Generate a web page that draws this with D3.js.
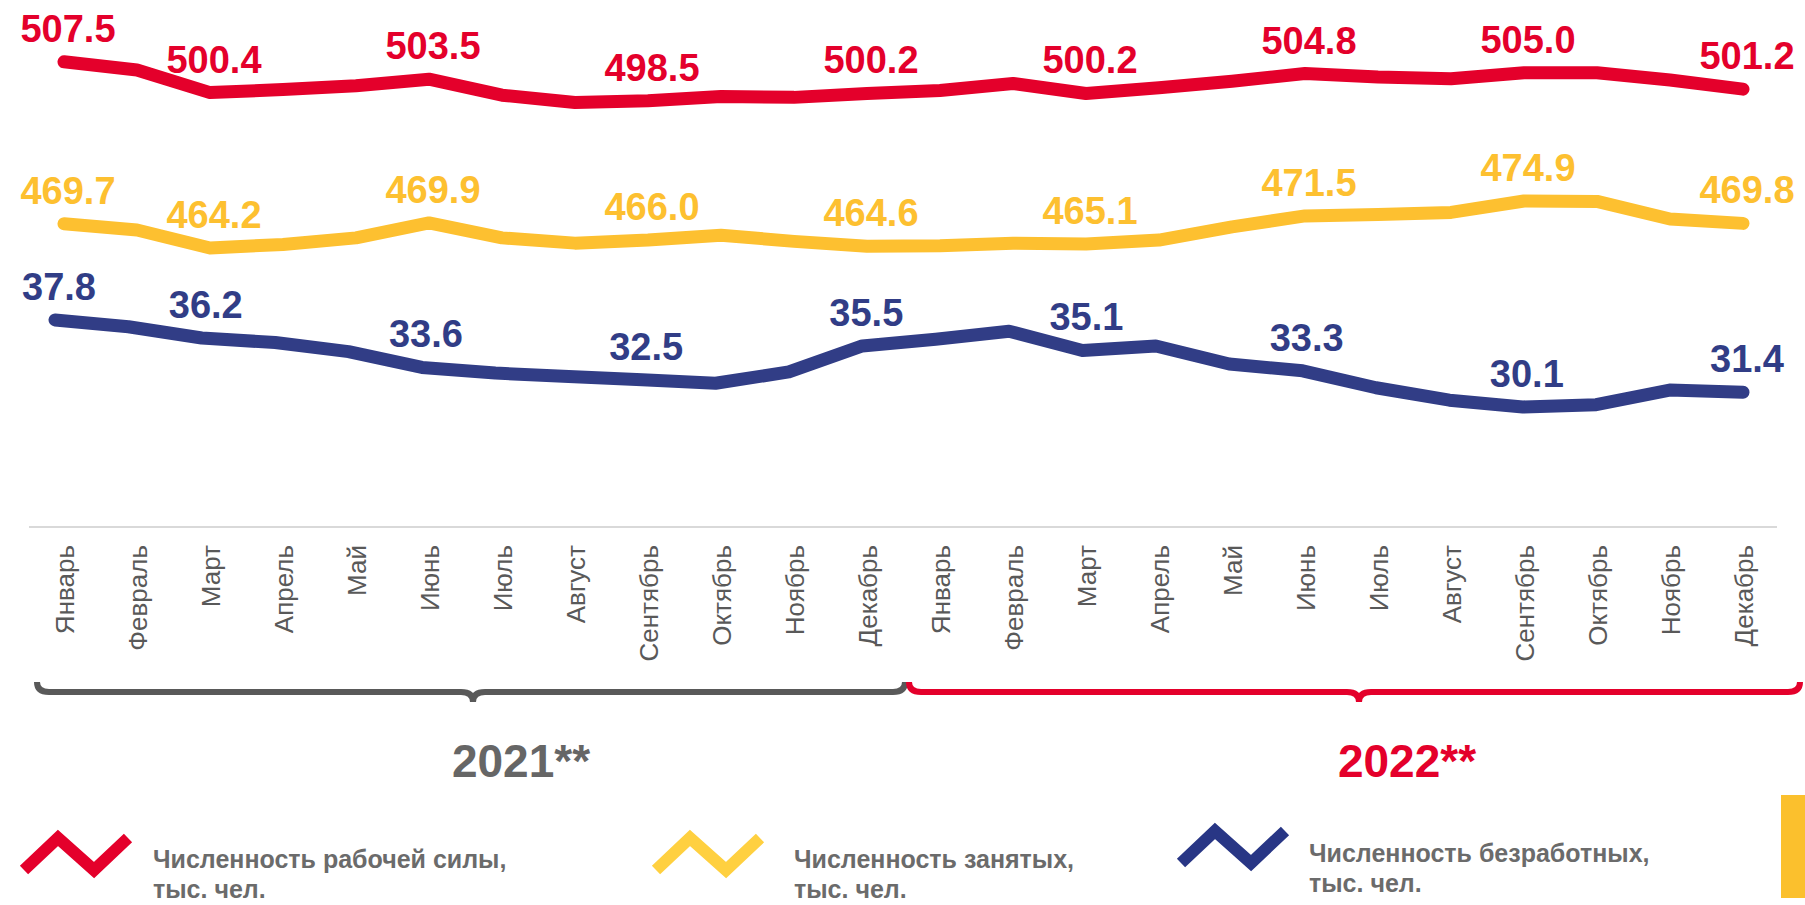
<!DOCTYPE html>
<html>
<head>
<meta charset="utf-8">
<script src="https://cdn.jsdelivr.net/npm/d3@7"></script>
<style>
  html, body { margin: 0; padding: 0; background: #fff; }
  svg { display: block; font-family: "Liberation Sans", Arial, sans-serif; }
</style>
</head>
<body>
<svg id="chart" width="1805" height="905"></svg>
<script>
// months (two years)
const months = ["Январь", "Февраль", "Март", "Апрель", "Май", "Июнь",
    "Июль", "Август", "Сентябрь", "Октябрь", "Ноябрь", "Декабрь"];
const periods = months.concat(months);

// labour force, ths people
const labourForce = [507.5, 505.6, 500.4, 501.1, 502.0, 503.5, 499.8, 498.1, 498.5, 499.5, 499.3, 500.2,
    500.9, 502.5, 500.2, 501.5, 503.0, 504.8, 504.0, 503.6, 505.0, 505.0, 503.3, 501.2];
// employed, ths people
const employed = [469.7, 468.3, 464.2, 465.0, 466.5, 469.9, 466.5, 465.3, 466.0, 467.1, 465.7, 464.6,
    464.7, 465.3, 465.1, 466.0, 469.0, 471.5, 471.8, 472.3, 474.9, 474.8, 470.8, 469.8];
// unemployed, ths people
const unemployed = [37.8, 37.2, 36.2, 35.8, 35.0, 33.6, 33.1, 32.8, 32.5, 32.2, 33.2, 35.5,
    36.1, 36.8, 35.1, 35.5, 33.9, 33.3, 31.8, 30.7, 30.1, 30.3, 31.6, 31.4];

// points that carry a value label
const labelled = [0, 2, 5, 8, 11, 14, 17, 20, 23];
const years = ["2021**", "2022**"];
const legendNames = [["Численность рабочей силы,", "тыс. чел."],
    ["Численность занятых,", "тыс. чел."],
    ["Численность безработных,", "тыс. чел."]];

const RED = "#e4002b", YELLOW = "#fdc030", BLUE = "#313d86", GREY = "#595959";

const svg = d3.select("#chart");
const idx = d3.range(periods.length);

const x = d3.scalePoint().domain(idx).range([64, 1743]);
const xBlue = d3.scalePoint().domain(idx).range([55, 1743]);

const yRed = d3.scaleLinear().domain([495, 510]).range([116, 51]);
const yYellow = d3.scaleLinear().domain([460, 480]).range([266.4, 178.6]);
const yBlue = d3.scaleLinear().domain([28, 40]).range([430.7, 295.1]);

const series = [
    { values: labourForce, x: x, y: yRed, color: RED },
    { values: employed, x: x, y: yYellow, color: YELLOW },
    { values: unemployed, x: xBlue, y: yBlue, color: BLUE }
];

const fmt = d3.format(".1f");

series.forEach(s => {
    const line = d3.line()
        .x((d, i) => s.x(i))
        .y(d => s.y(d));

    svg.append("path")
        .attr("d", line(s.values))
        .style("fill", "none")
        .style("stroke", s.color)
        .style("stroke-width", 13)
        .style("stroke-linecap", "round")
        .style("stroke-linejoin", "round");

    svg.append("g")
        .selectAll("text")
        .data(labelled)
        .enter()
        .append("text")
        .attr("x", i => s.x(i) + 4)
        .attr("y", i => s.y(s.values[i]) - 20)
        .attr("text-anchor", "middle")
        .style("font-size", "38px")
        .style("font-weight", "bold")
        .style("fill", s.color)
        .text(i => fmt(s.values[i]));
});

// baseline
svg.append("line")
    .attr("x1", 29).attr("x2", 1777)
    .attr("y1", 527).attr("y2", 527)
    .style("stroke", "#d9d9d9")
    .style("stroke-width", 2);

// month labels
const axis = d3.axisBottom(x).tickSize(0).tickFormat(i => periods[i]);
const gAxis = svg.append("g")
    .attr("transform", "translate(0,527)")
    .call(axis);
gAxis.select(".domain").remove();
gAxis.selectAll("text")
    .attr("transform", "rotate(-90)")
    .attr("x", -18)
    .attr("y", 0)
    .attr("dy", "0.35em")
    .attr("text-anchor", "end")
    .style("font-family", "\"Liberation Sans\", Arial, sans-serif")
    .style("font-size", "26px")
    .style("fill", GREY);

// year braces
function brace(x0, x1, tip, y0) {
    return `M${x0},${y0 - 10} Q${x0},${y0} ${x0 + 12},${y0}` +
        ` L${tip - 12},${y0} Q${tip},${y0} ${tip},${y0 + 10}` +
        ` Q${tip},${y0} ${tip + 12},${y0}` +
        ` L${x1 - 12},${y0} Q${x1},${y0} ${x1},${y0 - 10}`;
}
const braces = [
    { x0: 37, x1: 905, tip: 473, color: GREY, label: 521 },
    { x0: 909, x1: 1800, tip: 1359, color: RED, label: 1407 }
];
braces.forEach((b, i) => {
    svg.append("path")
        .attr("d", brace(b.x0, b.x1, b.tip, 692))
        .style("fill", "none")
        .style("stroke", b.color)
        .style("stroke-width", 6);
    svg.append("text")
        .attr("x", b.label)
        .attr("y", 777)
        .attr("text-anchor", "middle")
        .style("font-size", "46px")
        .style("font-weight", "bold")
        .style("fill", i === 0 ? "#666666" : RED)
        .text(years[i]);
});

// legend
const legend = [
    { color: RED, zx: 24, zy: 838, tx: 153, ty: 868 },
    { color: "#ffd040", zx: 656, zy: 838, tx: 794, ty: 868 },
    { color: "#283685", zx: 1181, zy: 831, tx: 1309, ty: 862 }
];
legend.forEach((l, i) => {
    const pts = [[l.zx, l.zy + 32], [l.zx + 34, l.zy], [l.zx + 70, l.zy + 32], [l.zx + 104, l.zy]];
    svg.append("path")
        .attr("d", d3.line()(pts))
        .style("fill", "none")
        .style("stroke", l.color)
        .style("stroke-width", 12)
        .style("stroke-linejoin", "miter");
    const t = svg.append("text")
        .attr("x", l.tx)
        .attr("y", l.ty)
        .style("font-size", "25px")
        .style("font-weight", "bold")
        .style("fill", "#6b6b6b");
    legendNames[i].forEach((s, k) => {
        t.append("tspan")
            .attr("x", l.tx)
            .attr("dy", k === 0 ? 0 : 30)
            .text(s);
    });
});

// side marker
svg.append("rect")
    .attr("x", 1781).attr("y", 795)
    .attr("width", 24).attr("height", 103)
    .style("fill", "#fbc02d");
</script>
</body>
</html>
